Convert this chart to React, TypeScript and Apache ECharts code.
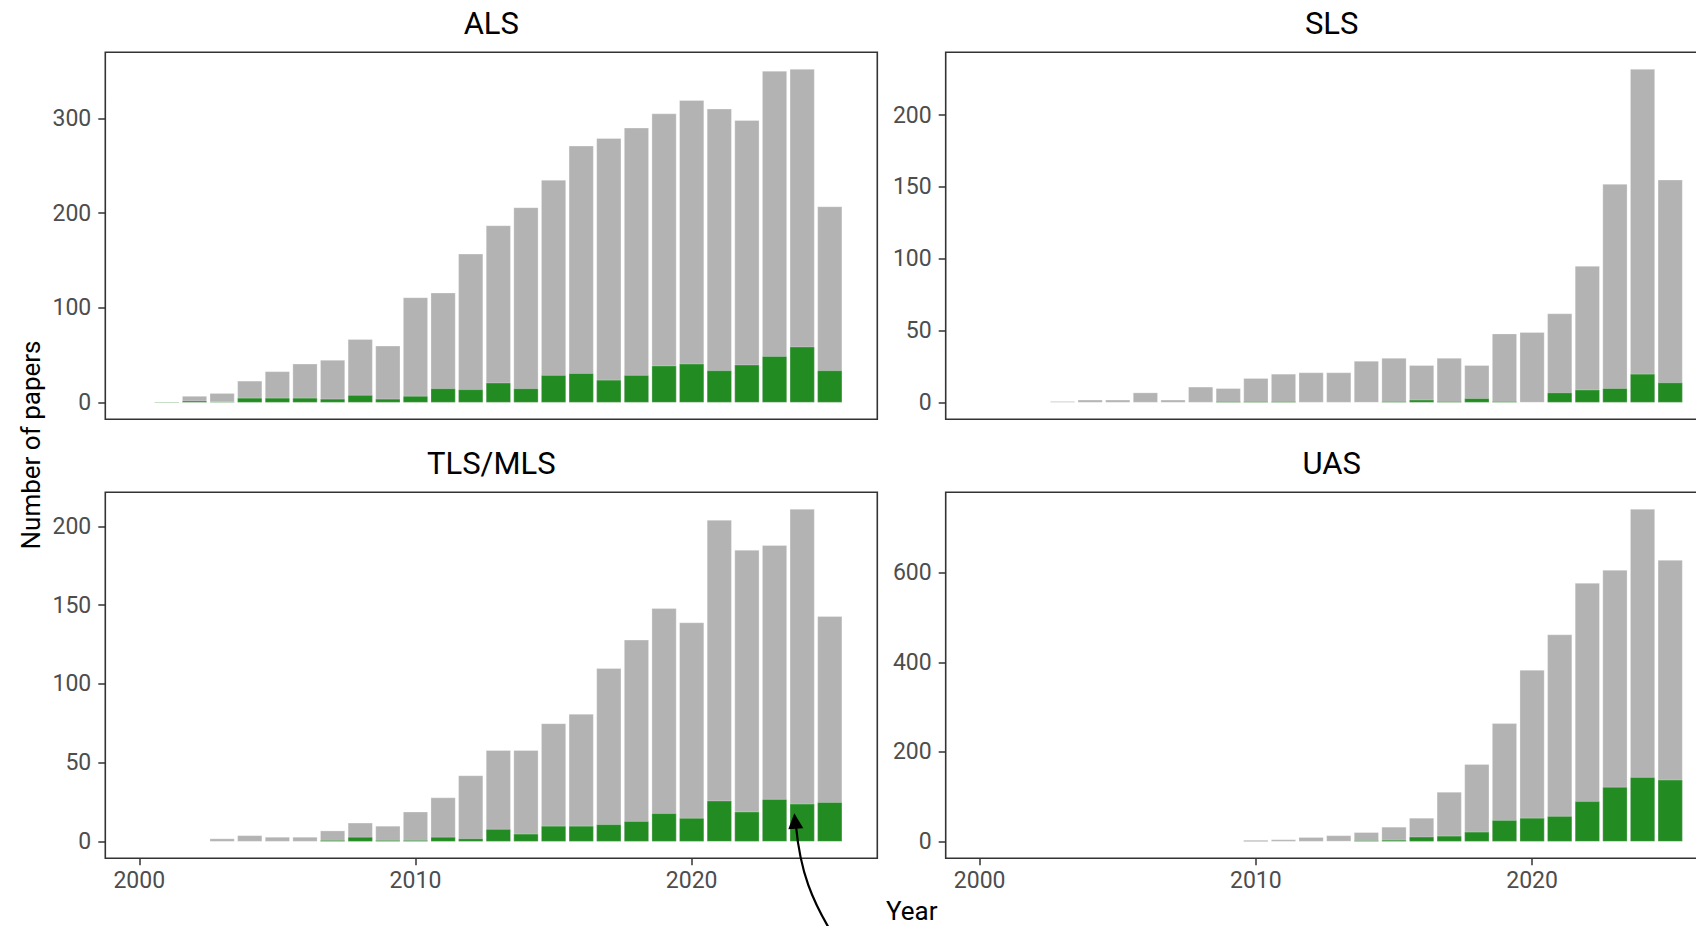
import React, { useEffect, useRef } from "react";
import * as echarts from "echarts";

// ---- data ----
const years = [
  2001, 2002, 2003, 2004, 2005, 2006, 2007, 2008, 2009, 2010, 2011, 2012, 2013,
  2014, 2015, 2016, 2017, 2018, 2019, 2020, 2021, 2022, 2023, 2024, 2025,
];
const panelTitles = ["ALS", "SLS", "TLS/MLS", "UAS"];

const alsTotal = [1, 7, 10, 23, 33, 41, 45, 67, 60, 111, 116, 157, 187, 206, 235, 271, 279, 290, 305, 319, 310, 298, 350, 352, 207];
const alsGreen = [1, 2, 1, 5, 5, 5, 4, 8, 4, 7, 15, 14, 21, 15, 29, 31, 24, 29, 39, 41, 34, 40, 49, 59, 34];

const slsTotal = [0, 0, 1, 2, 2, 7, 2, 11, 10, 17, 20, 21, 21, 29, 31, 26, 31, 26, 48, 49, 62, 95, 152, 232, 155];
const slsGreen = [0, 0, 0, 0, 0, 0, 0, 0, 1, 1, 1, 0, 0, 0, 1, 2, 1, 3, 1, 0, 7, 9, 10, 20, 14];

const tlsTotal = [0, 0, 2, 4, 3, 3, 7, 12, 10, 19, 28, 42, 58, 58, 75, 81, 110, 128, 148, 139, 204, 185, 188, 211, 143];
const tlsGreen = [0, 0, 0, 0, 0, 0, 1, 3, 1, 1, 3, 2, 8, 5, 10, 10, 11, 13, 18, 15, 26, 19, 27, 24, 25];

const uasTotal = [0, 0, 0, 0, 0, 0, 0, 0, 0, 4, 5, 10, 14, 21, 33, 53, 111, 173, 264, 383, 462, 577, 606, 742, 628];
const uasGreen = [0, 0, 0, 0, 0, 0, 0, 0, 0, 2, 0, 0, 1, 3, 4, 11, 13, 22, 48, 53, 57, 90, 122, 144, 138];

const totals = [alsTotal, slsTotal, tlsTotal, uasTotal];
const greens = [alsGreen, slsGreen, tlsGreen, uasGreen];

const yTicks = [
  [0, 100, 200, 300],
  [0, 50, 100, 150, 200],
  [0, 50, 100, 150, 200],
  [0, 200, 400, 600],
];
const xTicks = [2000, 2010, 2020];
const xLimits = [1998.77, 2026.72];

const yLabel = "Number of papers";
const xLabel = "Year";

// ---- layout / style ----
const W = 1696;
const H = 926;
const GRIDS = [
  { left: 105.3, top: 52.3, width: 772, height: 367 },
  { left: 945.7, top: 52.3, width: 772, height: 367 },
  { left: 105.3, top: 492.3, width: 772, height: 366 },
  { left: 945.7, top: 492.3, width: 772, height: 366 },
];
const GREY = "#b3b3b3";
const GREEN = "#228b22";
const FONT = "Roboto";
const TICK_COLOR = "#333333";
const LABEL_COLOR = "#4d4d4d";

function pairs(vals: number[]) {
  return years
    .map((y, k) => [y, vals[k]])
    .filter((d) => d[1] > 0);
}

export default function App() {
  const ref = useRef<HTMLDivElement>(null);

  useEffect(() => {
    document.body.style.margin = "0";
    if (!ref.current) return;
    const chart = echarts.init(ref.current, undefined, { renderer: "svg" });

    const grid = GRIDS.map((g) => ({
      ...g,
      show: true,
      borderColor: "#333333",
      borderWidth: 1.6,
      backgroundColor: "transparent",
      containLabel: false,
      outerBoundsMode: "none",
    }));

    const xAxis = GRIDS.map((_, i) => {
      const bottom = i >= 2;
      return {
        gridIndex: i,
        type: "value",
        min: xLimits[0],
        max: xLimits[1],
        axisLine: { show: false, onZero: false },
        splitLine: { show: false },
        axisTick: {
          show: bottom,
          customValues: xTicks,
          length: 7,
          lineStyle: { color: TICK_COLOR, width: 1.5 },
        },
        axisLabel: {
          show: bottom,
          customValues: xTicks,
          margin: 11,
          color: LABEL_COLOR,
          fontSize: 23,
          fontFamily: FONT,
          formatter: (v: number) => String(v),
        },
      };
    });

    const yAxis = GRIDS.map((_, i) => ({
      gridIndex: i,
      type: "value",
      min: (v: { max: number }) => -0.05 * v.max,
      max: (v: { max: number }) => 1.05 * v.max,
      axisLine: { show: false, onZero: false },
      splitLine: { show: false },
      axisTick: {
        show: true,
        customValues: yTicks[i],
        length: 7,
        lineStyle: { color: TICK_COLOR, width: 1.5 },
      },
      axisLabel: {
        customValues: yTicks[i],
        margin: 14,
        color: LABEL_COLOR,
        fontSize: 23,
        fontFamily: FONT,
        formatter: (v: number) => String(v),
      },
    }));

    const series: any[] = [];
    GRIDS.forEach((_, i) => {
      series.push({
        type: "bar",
        xAxisIndex: i,
        yAxisIndex: i,
        data: pairs(totals[i]),
        barWidth: "90%",
        barGap: "-100%",
        itemStyle: { color: GREY, borderColor: "rgba(255,255,255,0.45)", borderWidth: 0.6 },
        silent: true,
      });
      series.push({
        type: "bar",
        xAxisIndex: i,
        yAxisIndex: i,
        data: pairs(greens[i]),
        barWidth: "90%",
        barGap: "-100%",
        itemStyle: { color: GREEN, borderColor: "rgba(255,255,255,0.45)", borderWidth: 0.6 },
        silent: true,
      });
    });

    const titleEls = GRIDS.map((g, i) => ({
      type: "text",
      x: g.left + g.width / 2,
      y: g.top - 28.5,
      style: {
        text: panelTitles[i],
        fill: "#000000",
        fontSize: 31,
        fontFamily: FONT,
        align: "center",
        verticalAlign: "middle",
      },
    }));

    const graphic = [
      ...titleEls,
      {
        type: "text",
        x: 30.8,
        y: 445,
        rotation: Math.PI / 2,
        style: {
          text: yLabel,
          fill: "#000000",
          fontSize: 26,
          fontFamily: FONT,
          align: "center",
          verticalAlign: "middle",
        },
      },
      {
        type: "text",
        x: 911.7,
        y: 911,
        style: {
          text: xLabel,
          fill: "#000000",
          fontSize: 26,
          fontFamily: FONT,
          align: "center",
          verticalAlign: "middle",
        },
      },
      {
        type: "bezierCurve",
        shape: { x1: 840, y1: 946, cpx1: 810, cpy1: 900, cpx2: 800, cpy2: 869, x2: 796, y2: 826 },
        style: { stroke: "#000000", lineWidth: 2.2, fill: "none" },
        z: 100,
      },
      {
        type: "polygon",
        shape: { points: [[794.3, 813.3], [788.3, 829.3], [803.3, 828.3]] },
        style: { fill: "#000000" },
        z: 100,
      },
    ];

    chart.setOption({
      animation: false,
      backgroundColor: "#ffffff",
      textStyle: { fontFamily: FONT },
      grid,
      xAxis,
      yAxis,
      series,
      graphic,
    });

    return () => chart.dispose();
  }, []);

  return <div ref={ref} style={{ width: W, height: H }} />;
}
